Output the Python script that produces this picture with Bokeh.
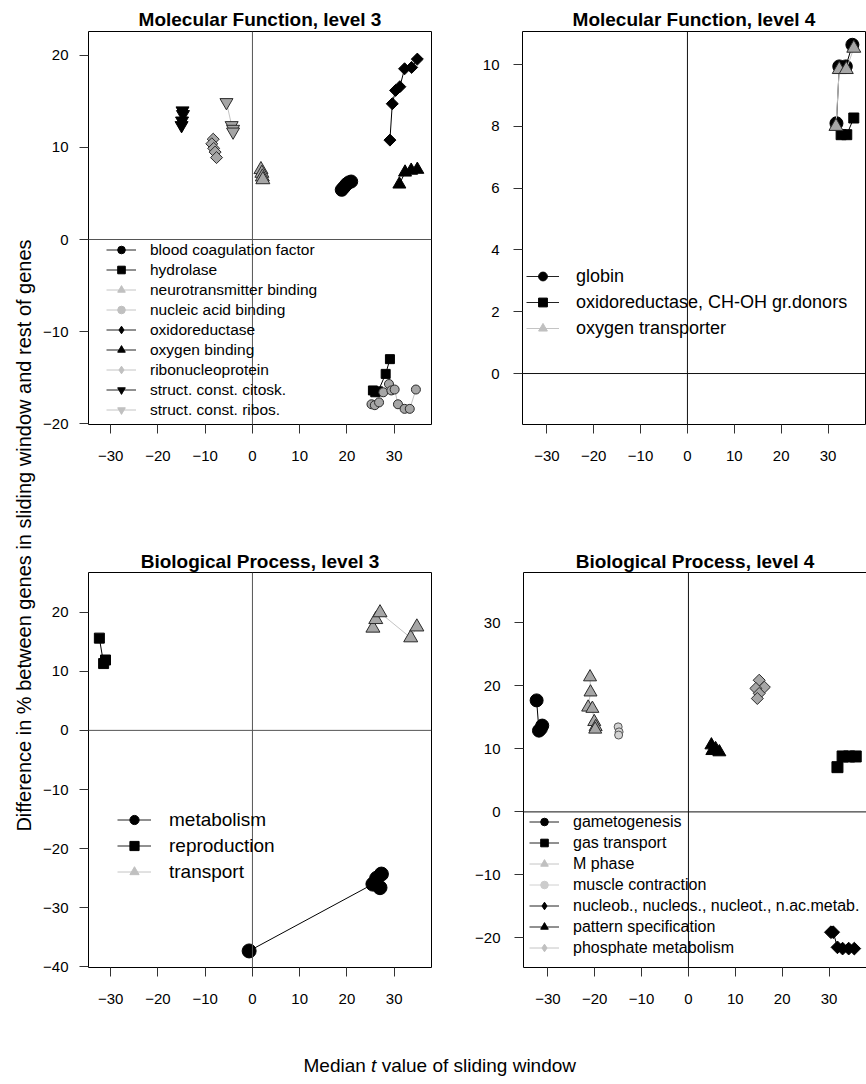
import math
from bokeh.plotting import figure
from bokeh.models import ColumnDataSource, Span, Legend, LegendItem, Label, FixedTicker
from bokeh.layouts import row, column
from bokeh.embed import file_html
from bokeh.resources import INLINE

FONT = "Liberation Sans"

# ---------------- data ----------------
X_TICKS = [-30, -20, -10, 0, 10, 20, 30]
X_LABEL_A = "Median"
X_LABEL_T = "t"
X_LABEL_B = "value of sliding window"
Y_LABEL = "Difference in % between genes in sliding window and rest of genes"

# Molecular Function, level 3
MF3_TITLE = "Molecular Function, level 3"
MF3_Y_TICKS = [-20, -10, 0, 10, 20]
MF3_NAMES = ["blood coagulation factor", "hydrolase", "neurotransmitter binding",
             "nucleic acid binding", "oxidoreductase", "oxygen binding",
             "ribonucleoprotein", "struct. const. citosk.", "struct. const. ribos."]
MF3_BLOOD_X = [18.9, 19.4, 19.9, 20.4, 20.9]
MF3_BLOOD_Y = [5.4, 5.7, 6.0, 6.2, 6.3]
MF3_HYDRO_X = [29.1, 28.2, 26.6, 25.5, 26.0]
MF3_HYDRO_Y = [-13.0, -14.6, -16.5, -16.4, -16.6]
MF3_NEURO_X = [1.8, 2.0, 2.1, 2.2]
MF3_NEURO_Y = [7.6, 7.2, 6.8, 6.5]
MF3_NUCL_X = [25.2, 25.9, 26.8, 27.7, 28.9, 29.4, 30.1, 30.8, 32.2, 33.3, 34.6]
MF3_NUCL_Y = [-17.9, -18.0, -17.7, -16.6, -15.7, -16.4, -16.3, -17.9, -18.4, -18.4, -16.3]
MF3_OXRED_X = [29.1, 29.6, 30.3, 31.2, 32.2, 33.7, 34.9]
MF3_OXRED_Y = [10.8, 14.75, 16.2, 16.6, 18.55, 18.7, 19.6]
MF3_OXBIND_X = [31.1, 32.3, 33.6, 34.9]
MF3_OXBIND_Y = [6.0, 7.3, 7.5, 7.6]
MF3_RIBO_X = [-8.3, -8.6, -8.2, -7.9, -7.6]
MF3_RIBO_Y = [10.9, 10.4, 9.9, 9.5, 8.9]
MF3_CITO_X = [-14.8, -14.7, -14.9, -15.0]
MF3_CITO_Y = [14.0, 13.6, 12.9, 12.4]
MF3_RIBOS_X = [-5.5, -4.4, -4.1, -4.1]
MF3_RIBOS_Y = [14.9, 12.4, 12.0, 11.7]

# Molecular Function, level 4
MF4_TITLE = "Molecular Function, level 4"
MF4_Y_TICKS = [0, 2, 4, 6, 8, 10]
MF4_NAMES = ["globin", "oxidoreductase, CH-OH gr.donors", "oxygen transporter"]
MF4_GLOBIN_X = [31.8, 32.4, 33.8, 35.2]
MF4_GLOBIN_Y = [8.1, 9.94, 9.94, 10.64]
MF4_OXRED_X = [32.8, 34.0, 35.5]
MF4_OXRED_Y = [7.73, 7.73, 8.27]
MF4_OXTR_X = [31.7, 32.4, 33.9, 35.5]
MF4_OXTR_Y = [8.0, 9.84, 9.84, 10.53]

# Biological Process, level 3
BP3_TITLE = "Biological Process, level 3"
BP3_Y_TICKS = [-40, -30, -20, -10, 0, 10, 20]
BP3_NAMES = ["metabolism", "reproduction", "transport"]
BP3_METAB_X = [-0.7, 25.5, 26.3, 27.3, 27.0]
BP3_METAB_Y = [-37.3, -26.0, -25.0, -24.3, -26.6]
BP3_REPRO_X = [-32.4, -31.5, -31.1]
BP3_REPRO_Y = [15.6, 11.3, 11.9]
BP3_TRANS_X = [25.5, 26.1, 27.0, 33.5, 34.8]
BP3_TRANS_Y = [17.3, 18.75, 19.9, 15.66, 17.5]

# Biological Process, level 4
BP4_TITLE = "Biological Process, level 4"
BP4_Y_TICKS = [-20, -10, 0, 10, 20, 30]
BP4_NAMES = ["gametogenesis", "gas transport", "M phase", "muscle contraction",
             "nucleob., nucleos., nucleot., n.ac.metab.", "pattern specification",
             "phosphate metabolism"]
BP4_GAMETO_X = [-32.4, -31.9, -31.5, -31.2]
BP4_GAMETO_Y = [17.7, 12.9, 13.2, 13.7]
BP4_GAS_X = [31.8, 32.9, 34.3, 35.7]
BP4_GAS_Y = [7.1, 8.8, 8.8, 8.8]
BP4_MPHASE_X = [-21.0, -20.9, -21.4, -20.5, -20.1, -19.8, -19.9]
BP4_MPHASE_Y = [21.4, 19.0, 16.6, 16.4, 14.3, 13.5, 13.1]
BP4_MUSCLE_X = [-15.0, -14.8, -14.9]
BP4_MUSCLE_Y = [13.5, 12.7, 12.2]
BP4_NUCL_X = [30.4, 30.9, 31.8, 32.9, 34.2, 35.4]
BP4_NUCL_Y = [-19.1, -19.1, -21.5, -21.7, -21.7, -21.7]
BP4_PATTERN_X = [4.9, 5.1, 5.8, 6.6]
BP4_PATTERN_Y = [10.6, 9.7, 10.0, 9.5]
BP4_PHOS_X = [15.1, 16.2, 14.4, 15.1, 14.7]
BP4_PHOS_Y = [20.9, 19.8, 19.6, 18.8, 18.0]

# ---------------- styles ----------------
TONES = {
    "black": dict(fill="black", line="black", conn="black", leg="black", legline="#222222"),
    "grey": dict(fill="#a6a6a6", line="#2a2a2a", conn="#c4c4c4", leg="#c0c0c0", legline="#c4c4c4"),
    "light": dict(fill="#d2d2d2", line="#555555", conn="#d4d4d4", leg="#cccccc", legline="#d0d0d0"),
}


def build_panel(title, names, xs_list, ys_list, styles, xr, yr, yticks, frame_w, frame_h,
                borders, leg, zero_color, y_standoff, title_standoff):
    left, right, top, bottom = borders
    p = figure(frame_width=frame_w, frame_height=frame_h, x_range=xr, y_range=yr,
               min_border_left=left, min_border_right=right,
               min_border_top=top, min_border_bottom=bottom,
               output_backend="svg", toolbar_location=None, tools="")
    p.title.text = title
    p.title.align = "center"
    p.title.text_font = FONT
    p.title.text_font_style = "bold"
    p.title.text_font_size = "19px"
    p.title.text_color = "black"
    p.title.standoff = title_standoff
    p.xgrid.grid_line_color = None
    p.ygrid.grid_line_color = None
    p.outline_line_color = "black"
    p.outline_line_alpha = 1.0
    p.outline_line_width = 1
    for ax in (p.xaxis[0], p.yaxis[0]):
        ax.axis_line_color = None
        ax.major_tick_in = 0
        ax.major_tick_out = 9
        ax.major_tick_line_color = "#333333"
        ax.minor_tick_line_color = None
        ax.major_label_text_font = FONT
        ax.major_label_text_font_size = "15px"
        ax.major_label_text_color = "black"
    p.xaxis[0].ticker = FixedTicker(ticks=X_TICKS)
    p.yaxis[0].ticker = FixedTicker(ticks=yticks)
    p.xaxis[0].major_label_standoff = 17
    p.yaxis[0].major_label_standoff = y_standoff

    p.add_layout(Span(location=0, dimension="width", line_color=zero_color, line_width=1))
    p.add_layout(Span(location=0, dimension="height", line_color=zero_color, line_width=1))

    items = []
    for name, xs, ys in zip(names, xs_list, ys_list):
        marker, tone, size = styles[name]
        st = TONES[tone]
        src = ColumnDataSource(dict(x=xs, y=ys))
        p.line("x", "y", source=src, line_color=st["conn"], line_width=1)
        if marker == "diamond":
            p.scatter("x", "y", source=src, marker="square", angle=math.pi / 4, size=size,
                      fill_color=st["fill"], line_color=st["line"], line_width=1)
        else:
            p.scatter("x", "y", source=src, marker=marker, size=size,
                      fill_color=st["fill"], line_color=st["line"], line_width=1)
        hl = p.line("x", "y", source=src, line_color=st["legline"], line_width=1, visible=False)
        hs = p.scatter("x", "y", source=src, marker=marker, size=6,
                       fill_color=st["leg"], line_color=st["leg"], visible=False)
        items.append(LegendItem(label=name, renderers=[hl, hs]))

    vx, vy, gw, ih, sp, standoff, fsize = leg
    lg = Legend(items=items, location=(vx, vy), padding=0, margin=0, spacing=sp,
                glyph_width=gw, glyph_height=ih, label_height=ih, label_standoff=standoff,
                label_text_font=FONT, label_text_font_size=fsize, label_text_color="black",
                border_line_color=None, background_fill_alpha=0)
    p.add_layout(lg)
    return p


MF3_STYLES = {
    "blood coagulation factor": ("circle", "black", 13),
    "hydrolase": ("square", "black", 9),
    "neurotransmitter binding": ("triangle", "grey", 14),
    "nucleic acid binding": ("circle", "grey", 9),
    "oxidoreductase": ("diamond", "black", 8.5),
    "oxygen binding": ("triangle", "black", 13),
    "ribonucleoprotein": ("diamond", "grey", 8.5),
    "struct. const. citosk.": ("inverted_triangle", "black", 13),
    "struct. const. ribos.": ("inverted_triangle", "grey", 13),
}
MF4_STYLES = {
    "globin": ("circle", "black", 13),
    "oxidoreductase, CH-OH gr.donors": ("square", "black", 10),
    "oxygen transporter": ("triangle", "grey", 14),
}
BP3_STYLES = {
    "metabolism": ("circle", "black", 14),
    "reproduction": ("square", "black", 10),
    "transport": ("triangle", "grey", 14),
}
BP4_STYLES = {
    "gametogenesis": ("circle", "black", 13),
    "gas transport": ("square", "black", 11),
    "M phase": ("triangle", "grey", 13),
    "muscle contraction": ("circle", "light", 8),
    "nucleob., nucleos., nucleot., n.ac.metab.": ("diamond", "black", 9),
    "pattern specification": ("triangle", "black", 13),
    "phosphate metabolism": ("diamond", "grey", 8.5),
}

LEFT_XR = (-34.7, 37.9)
RIGHT_XR = (-35.2, 38.0)

p1 = build_panel(MF3_TITLE, MF3_NAMES,
                 [MF3_BLOOD_X, MF3_HYDRO_X, MF3_NEURO_X, MF3_NUCL_X, MF3_OXRED_X,
                  MF3_OXBIND_X, MF3_RIBO_X, MF3_CITO_X, MF3_RIBOS_X],
                 [MF3_BLOOD_Y, MF3_HYDRO_Y, MF3_NEURO_Y, MF3_NUCL_Y, MF3_OXRED_Y,
                  MF3_OXBIND_Y, MF3_RIBO_Y, MF3_CITO_Y, MF3_RIBOS_Y],
                 MF3_STYLES, LEFT_XR, (-20.1, 22.6), MF3_Y_TICKS, 343, 393,
                 (47, 41, 31, 122), (18, 5, 30, 19, 1, 14, "15.5px"), "#555555", 11, 3)

p2 = build_panel(MF4_TITLE, MF4_NAMES,
                 [MF4_GLOBIN_X, MF4_OXRED_X, MF4_OXTR_X],
                 [MF4_GLOBIN_Y, MF4_OXRED_Y, MF4_OXTR_Y],
                 MF4_STYLES, RIGHT_XR, (-1.65, 11.07), MF4_Y_TICKS, 343, 393,
                 (50, 2, 31, 122), (4, 85, 33, 22, 4, 17, "18px"), "#111111", 14, 3)

p3 = build_panel(BP3_TITLE, BP3_NAMES,
                 [BP3_METAB_X, BP3_REPRO_X, BP3_TRANS_X],
                 [BP3_METAB_Y, BP3_REPRO_Y, BP3_TRANS_Y],
                 BP3_STYLES, LEFT_XR, (-40.1, 26.7), BP3_Y_TICKS, 343, 395,
                 (47, 41, 26, 48), (29, 84, 34, 23, 3, 18, "19px"), "#555555", 11, 1)

p4 = build_panel(BP4_TITLE, BP4_NAMES,
                 [BP4_GAMETO_X, BP4_GAS_X, BP4_MPHASE_X, BP4_MUSCLE_X, BP4_NUCL_X,
                  BP4_PATTERN_X, BP4_PHOS_X],
                 [BP4_GAMETO_Y, BP4_GAS_Y, BP4_MPHASE_Y, BP4_MUSCLE_Y, BP4_NUCL_Y,
                  BP4_PATTERN_Y, BP4_PHOS_Y],
                 BP4_STYLES, RIGHT_XR, (-24.7, 38.0), BP4_Y_TICKS, 343, 395,
                 (50, 2, 26, 48), (6, 10, 30, 19, 2, 14, "16px"), "#111111", 14, 1)

# shared axis labels
ylab = figure(width=40, height=1084, x_range=(0, 1), y_range=(0, 1),
              x_axis_location=None, y_axis_location=None, min_border=0,
              output_backend="svg", toolbar_location=None, tools="")
ylab.outline_line_color = None
ylab.grid.grid_line_color = None
ylab.add_layout(Label(x=23, y=549, x_units="screen", y_units="screen", angle=math.pi / 2,
                      text=Y_LABEL, text_align="center", text_baseline="middle",
                      text_font=FONT, text_font_size="20px", text_color="black"))

xlab = figure(width=826, height=69, x_range=(0, 1), y_range=(0, 1),
              x_axis_location=None, y_axis_location=None, min_border=0,
              output_backend="svg", toolbar_location=None, tools="")
xlab.outline_line_color = None
xlab.grid.grid_line_color = None
XL0 = 263
XL_Y = 19
xlab.add_layout(Label(x=XL0, y=XL_Y, x_units="screen", y_units="screen", text=X_LABEL_A,
                      text_align="left", text_baseline="alphabetic",
                      text_font=FONT, text_font_size="19px", text_color="black"))
xlab.add_layout(Label(x=XL0 + 67.6, y=XL_Y, x_units="screen", y_units="screen", text=X_LABEL_T,
                      text_align="left", text_baseline="alphabetic", text_font_style="italic",
                      text_font=FONT, text_font_size="19px", text_color="black"))
xlab.add_layout(Label(x=XL0 + 78.2, y=XL_Y, x_units="screen", y_units="screen", text=X_LABEL_B,
                      text_align="left", text_baseline="alphabetic",
                      text_font=FONT, text_font_size="19px", text_color="black"))

layout = row(ylab, column(row(p1, p2), row(p3, p4), xlab))

open("out.html", "w").write(file_html(layout, INLINE))
